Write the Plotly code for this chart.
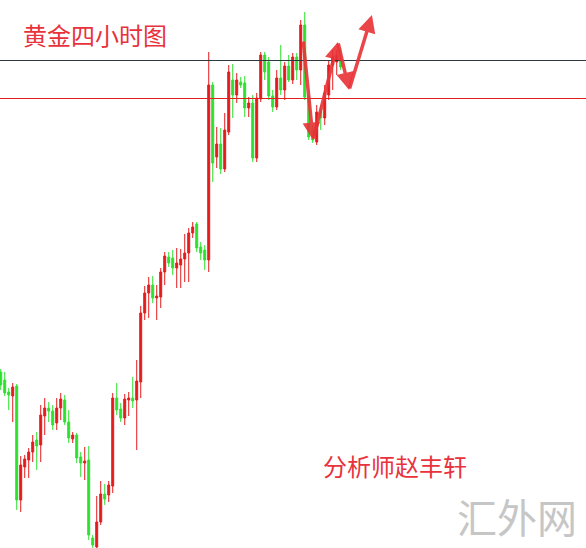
import plotly.graph_objects as go

# 4-hour candles (price units, hidden axis)
idx = list(range(86))
opens = [176, 168, 156, 152, 162, 48, 81, 88, 96, 108, 103, 132, 140, 137, 125, 140, 148, 126, 109, 113,
         91, 85, 88, 10, 1, 26, 54, 53, 62, 150, 139, 130, 148, 150, 148, 166, 235, 255, 263, 250,
         251, 276, 291, 290, 280, 283, 289, 295, 315, 324, 301, 298, 288, 463, 391, 404, 379, 416, 468, 453,
         466, 465, 440, 445, 390, 449, 493, 486, 452, 441, 470, 458, 482, 468, 491, 478, 523, 451, 418, 406,
         436, 430, 453, 483, 486, 488]
highs = [179, 176, 160, 165, 164, 92, 93, 100, 113, 116, 143, 150, 146, 143, 150, 155, 153, 138, 116, 115,
         96, 101, 102, 13, 52, 67, 64, 67, 155, 165, 145, 154, 156, 171, 188, 242, 262, 271, 272, 263,
         280, 296, 296, 298, 300, 299, 314, 320, 326, 326, 306, 303, 496, 466, 421, 420, 435, 483, 484, 475,
         471, 472, 451, 453, 455, 496, 496, 491, 458, 478, 503, 486, 493, 495, 495, 528, 536, 453, 423, 443,
         443, 463, 488, 498, 498, 500]
lows = [158, 152, 138, 126, 38, 36, 70, 70, 86, 78, 86, 113, 126, 118, 118, 128, 123, 105, 105, 85,
        71, 68, 8, 0, 0, 23, 43, 46, 55, 133, 126, 123, 132, 140, 98, 150, 228, 230, 245, 228,
        240, 263, 281, 273, 260, 260, 266, 266, 310, 296, 288, 278, 276, 366, 380, 374, 376, 413, 430, 445,
        460, 431, 431, 386, 386, 446, 468, 448, 436, 438, 453, 448, 466, 464, 468, 463, 448, 408, 405, 403,
        418, 423, 448, 458, 473, 478]
closes = [163, 155, 153, 161, 48, 83, 89, 96, 106, 102, 133, 140, 137, 123, 140, 149, 126, 110, 113, 90,
          85, 87, 13, 3, 26, 54, 49, 63, 150, 138, 130, 149, 150, 147, 167, 235, 255, 263, 250, 252,
          276, 292, 285, 280, 285, 289, 295, 315, 321, 300, 295, 288, 463, 385, 404, 379, 418, 476, 453, 468,
          463, 440, 445, 390, 450, 493, 476, 452, 441, 470, 458, 482, 468, 491, 478, 523, 451, 411, 408, 436,
          430, 455, 483, 491, 493, 481]

resistance = 487.5
support = 449.5

# hand-drawn forecast zigzag (candle index, price)
path_x = [75.6, 78.1, 84.3, 87.1, 92.8]
path_y = [508, 408, 506, 458, 533]

red = '#e31c1c'
green = '#2fe02f'

fig = go.Figure()

fig.add_trace(
    go.Candlestick(x = idx, open = opens, high = highs, low = lows, close = closes,
                   increasing = dict(line = dict(color = red, width = 1), fillcolor = red),
                   decreasing = dict(line = dict(color = green, width = 1), fillcolor = green),
                   whiskerwidth = 0, showlegend = False, hoverinfo = 'skip'))

fig.add_hline(y = resistance, line = dict(color = '#2c3a40', width = 1))
fig.add_hline(y = support, line = dict(color = '#e01e1e', width = 1))

arrows = []
for k in range(len(path_x) - 1):
    arrows.append(dict(x = path_x[k + 1], y = path_y[k + 1], ax = path_x[k], ay = path_y[k],
                       xref = 'x', yref = 'y', axref = 'x', ayref = 'y',
                       showarrow = True, arrowhead = 2, arrowsize = 1, arrowwidth = 3.5,
                       arrowcolor = 'rgba(232,50,55,0.9)', text = ''))

# pixel-positioned labels
W, H = 586, 548
labels = [('黄金四小时图', 21, 35, 24, '#e8323c'),
          ('分析师赵丰轩', 321, 465, 24, '#e8323c'),
          ('汇外网', 455, 516, 40, '#c6c6c6')]
for txt, px, py, size, col in labels:
    arrows.append(dict(text = txt, x = px / W, y = 1 - py / H, xref = 'paper', yref = 'paper',
                       xanchor = 'left', yanchor = 'middle', showarrow = False,
                       font = dict(family = 'Noto Sans CJK SC', size = size, color = col)))

fig.update_layout(width = W, height = H,
                  margin = dict(l = 0, r = 0, t = 0, b = 0),
                  paper_bgcolor = 'white', plot_bgcolor = 'white',
                  showlegend = False,
                  annotations = arrows,
                  xaxis = dict(range = [-0.18, 146.32], visible = False, rangeslider = dict(visible = False)),
                  yaxis = dict(range = [0, 548], visible = False))

fig.write_html("out.html", config = dict(displayModeBar = False),
               post_script = "document.body.style.margin = '0';")
